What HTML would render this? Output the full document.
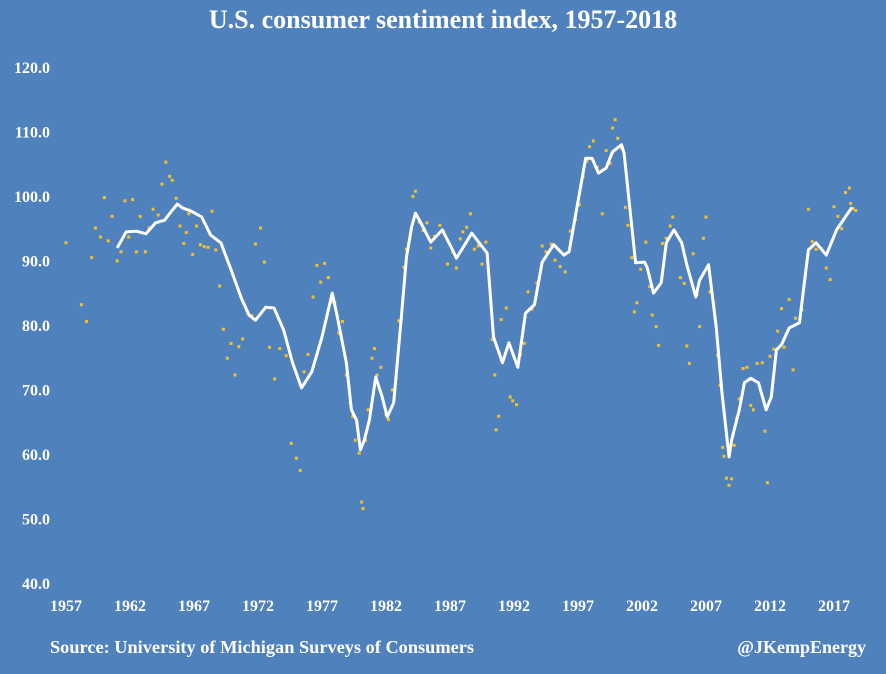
<!DOCTYPE html>
<html><head><meta charset="utf-8"><style>
html,body{margin:0;padding:0;background:#4f81bd;}
svg text{font-family:"Liberation Serif",serif;font-weight:bold;fill:#fff;}
</style></head><body>
<svg id="chart" width="886" height="669" xmlns="http://www.w3.org/2000/svg">
<rect x="0" y="0" width="886" height="669" fill="#4f81bd"/>
<text x="443" y="28" text-anchor="middle" font-size="26">U.S. consumer sentiment index, 1957-2018</text>
<g id="yticks"></g><g id="xticks"></g><g id="scatter"></g><g id="line"></g>
<text x="50" y="653" font-size="18" textLength="424" lengthAdjust="spacingAndGlyphs">Source: University of Michigan Surveys of Consumers</text>
<text x="866" y="653" text-anchor="end" font-size="18">@JKempEnergy</text>
</svg>
<script>
const yTicks=[40,50,60,70,80,90,100,110,120];
const xTicks=[1957,1962,1967,1972,1977,1982,1987,1992,1997,2002,2007,2012,2017];
const lineYears=[1961.0,1961.7,1962.5,1963.25,1964.0,1964.7,1965.2,1965.7,1966.1,1966.8,1967.6,1968.3,1969.1,1969.9,1970.7,1971.3,1971.8,1972.6,1973.25,1974.0,1974.7,1975.4,1976.2,1977.0,1977.8,1978.2,1978.9,1979.3,1979.7,1980.0,1980.3,1980.7,1981.2,1981.7,1982.1,1982.6,1983.2,1983.6,1984.0,1984.3,1984.8,1985.5,1986.4,1987.2,1987.5,1988.7,1989.9,1990.4,1991.1,1991.6,1992.3,1992.9,1993.6,1994.2,1995.1,1995.9,1996.3,1997.6,1998.1,1998.6,1999.2,1999.7,2000.4,2000.6,2001.5,2002.2,2002.4,2002.9,2003.5,2003.9,2004.5,2005.1,2005.5,2006.2,2006.5,2007.2,2007.8,2008.25,2008.8,2009.0,2009.6,2010.0,2010.5,2011.1,2011.7,2012.1,2012.5,2012.9,2013.5,2014.3,2015.0,2015.6,2016.4,2017.2,2018.4];
const lineValues=[92.1,94.6,94.7,94.3,96.0,96.4,97.7,98.9,98.3,97.8,96.9,94.1,92.9,88.7,84.3,81.7,80.9,82.9,82.8,79.4,74.3,70.4,72.9,78.3,85.1,81.4,74.3,67.0,65.4,60.8,62.3,65.4,72.1,69.0,65.9,68.1,81.4,90.7,95.3,97.5,95.7,93.0,94.9,91.8,90.5,94.4,91.3,78.3,74.3,77.4,73.6,82.0,83.3,89.9,92.6,91.0,91.5,106.0,106.0,103.7,104.5,107.0,108.1,106.8,89.8,89.9,89.1,85.1,86.7,92.9,94.9,92.9,89.5,84.5,87.1,89.5,79.8,69.6,59.7,62.3,67.0,71.2,71.9,71.2,67.0,69.0,76.3,77.1,79.7,80.5,91.8,92.9,91.0,94.9,98.4];
const dotYears=[1957,1958.2,1958.6,1959,1959.3,1959.7,1960,1960.3,1960.6,1961,1961.3,1961.6,1961.9,1962.2,1962.5,1962.8,1963.2,1963.5,1963.8,1964.2,1964.5,1964.8,1965.1,1965.3,1965.6,1965.9,1966.2,1966.4,1966.6,1966.9,1967.2,1967.5,1967.8,1968.1,1968.4,1968.7,1969.0,1969.3,1969.6,1969.9,1970.2,1970.5,1970.8,1971.2,1971.5,1971.8,1972.2,1972.5,1972.9,1973.3,1973.7,1974.2,1974.6,1975.0,1975.3,1975.6,1975.9,1976.3,1976.6,1976.9,1977.2,1977.5,1977.7,1977.8,1978.0,1978.3,1978.6,1978.9,1979.2,1979.4,1979.6,1979.9,1980.1,1980.2,1980.4,1980.6,1980.9,1981.1,1981.3,1981.6,1982.0,1982.2,1982.5,1982.8,1983.0,1983.4,1983.6,1983.9,1984.1,1984.3,1984.6,1984.9,1985.2,1985.5,1985.8,1986.2,1986.5,1986.8,1987.2,1987.5,1987.8,1988.0,1988.3,1988.6,1988.9,1989.2,1989.5,1989.8,1990.0,1990.3,1990.5,1990.6,1990.8,1991.0,1991.4,1991.7,1991.9,1992.2,1992.5,1992.8,1993.1,1993.4,1993.8,1994.2,1994.5,1994.9,1995.2,1995.6,1996.0,1996.4,1996.8,1997.1,1997.4,1997.7,1997.9,1998.2,1998.5,1998.9,1999.2,1999.5,1999.7,1999.9,2000.1,2000.4,2000.7,2000.9,2001.2,2001.4,2001.6,2001.9,2002.3,2002.6,2002.8,2003.1,2003.3,2003.6,2003.9,2004.2,2004.4,2004.7,2005.0,2005.3,2005.5,2005.7,2006.0,2006.3,2006.5,2006.8,2007.0,2007.3,2007.6,2007.9,2008.1,2008.3,2008.4,2008.6,2008.8,2009.0,2009.2,2009.4,2009.6,2009.9,2010.2,2010.5,2010.7,2011.0,2011.4,2011.6,2011.8,2012.0,2012.3,2012.6,2012.9,2013.1,2013.5,2013.8,2014.0,2014.5,2015.0,2015.3,2015.6,2016.0,2016.4,2016.7,2017.0,2017.3,2017.6,2017.9,2018.2,2018.5,2018.7,2018.3];
const dotValues=[92.9,83.3,80.7,90.6,95.2,93.8,99.9,93.2,97.0,90.1,91.5,99.4,93.8,99.6,91.5,97.0,91.5,95.2,98.1,97.2,102,105.4,103.2,102.6,99.8,95.5,92.8,94.5,97.4,91.1,95.5,92.6,92.3,92.2,97.8,91.8,86.2,79.5,75.0,77.3,72.4,76.8,78.0,82.0,81.6,92.7,95.2,89.9,76.7,71.8,76.5,75.4,61.8,59.5,57.6,72.9,75.6,84.5,89.4,86.8,89.7,87.5,83.7,84.0,83.7,78.9,80.7,72.4,68.1,66.0,62.3,60.3,52.7,51.7,62.3,67.0,75.0,76.5,72.4,73.6,66.3,65.5,70.1,71.9,80.8,89.1,91.9,94.2,100.1,100.9,96.1,94.8,96.0,92.1,93.9,95.6,94.6,89.6,91.5,89.0,93.5,94.6,95.3,97.4,91.9,92.4,89.6,93.0,88.8,77.9,72.4,63.9,66.0,81.0,82.8,69.0,68.4,67.8,75.6,77.3,85.3,82.6,86.7,92.4,91.5,92.7,90.2,89.2,88.4,94.7,96.5,98.8,103.2,105.6,107.8,108.7,104.6,97.4,107.2,105.2,110.7,112.0,109.1,107.6,98.4,95.6,90.6,82.2,83.6,88.8,93.0,86.1,81.7,79.9,77.0,92.8,93.6,95.5,96.9,94.2,87.5,86.6,76.9,74.2,91.2,84.9,79.9,93.6,96.9,85.3,83.4,75.5,70.8,61.2,59.8,56.4,55.3,56.3,61.5,65.7,68.7,73.4,73.6,67.7,67.0,74.2,74.3,63.7,55.7,75.3,76.4,79.2,82.7,76.7,84.1,73.2,81.2,82.5,98.1,93.1,91.9,92.0,89.0,87.2,98.5,97.0,95.1,100.7,101.4,98.2,97.9,99.0];

const NS='http://www.w3.org/2000/svg';
function xs(yr){return 66+(yr-1957)*12.8;}
function ys(v){return 584-(v-40)*6.45;}
const yg=document.getElementById('yticks');
yTicks.forEach(t=>{
  const e=document.createElementNS(NS,'text');
  
  
  e.setAttribute('x',50);e.setAttribute('y',ys(t)+5);
  e.setAttribute('text-anchor','end');e.setAttribute('font-size','16');
  e.textContent=t.toFixed(1);yg.appendChild(e);
});
const xg=document.getElementById('xticks');
xTicks.forEach(t=>{
  const e=document.createElementNS(NS,'text');
  
  
  e.setAttribute('x',xs(t));e.setAttribute('y',611);
  e.setAttribute('text-anchor','middle');e.setAttribute('font-size','16');
  e.textContent=t;xg.appendChild(e);
});
const sg=document.getElementById('scatter');
dotYears.forEach((yr,i)=>{
  const r=document.createElementNS(NS,'rect');
  
  
  r.setAttribute('x',xs(yr)-1.5);r.setAttribute('y',ys(dotValues[i])-1.5);
  r.setAttribute('width',3);r.setAttribute('height',3);r.setAttribute('fill','#f2c12e');
  sg.appendChild(r);
});
const p=document.createElementNS(NS,'polyline');


p.setAttribute('points',lineYears.map((yr,i)=>xs(yr)+','+ys(lineValues[i])).join(' '));
p.setAttribute('fill','none');p.setAttribute('stroke','#fff');p.setAttribute('stroke-width','3');
p.setAttribute('stroke-linejoin','round');
document.getElementById('line').appendChild(p);
</script>
</body></html>
